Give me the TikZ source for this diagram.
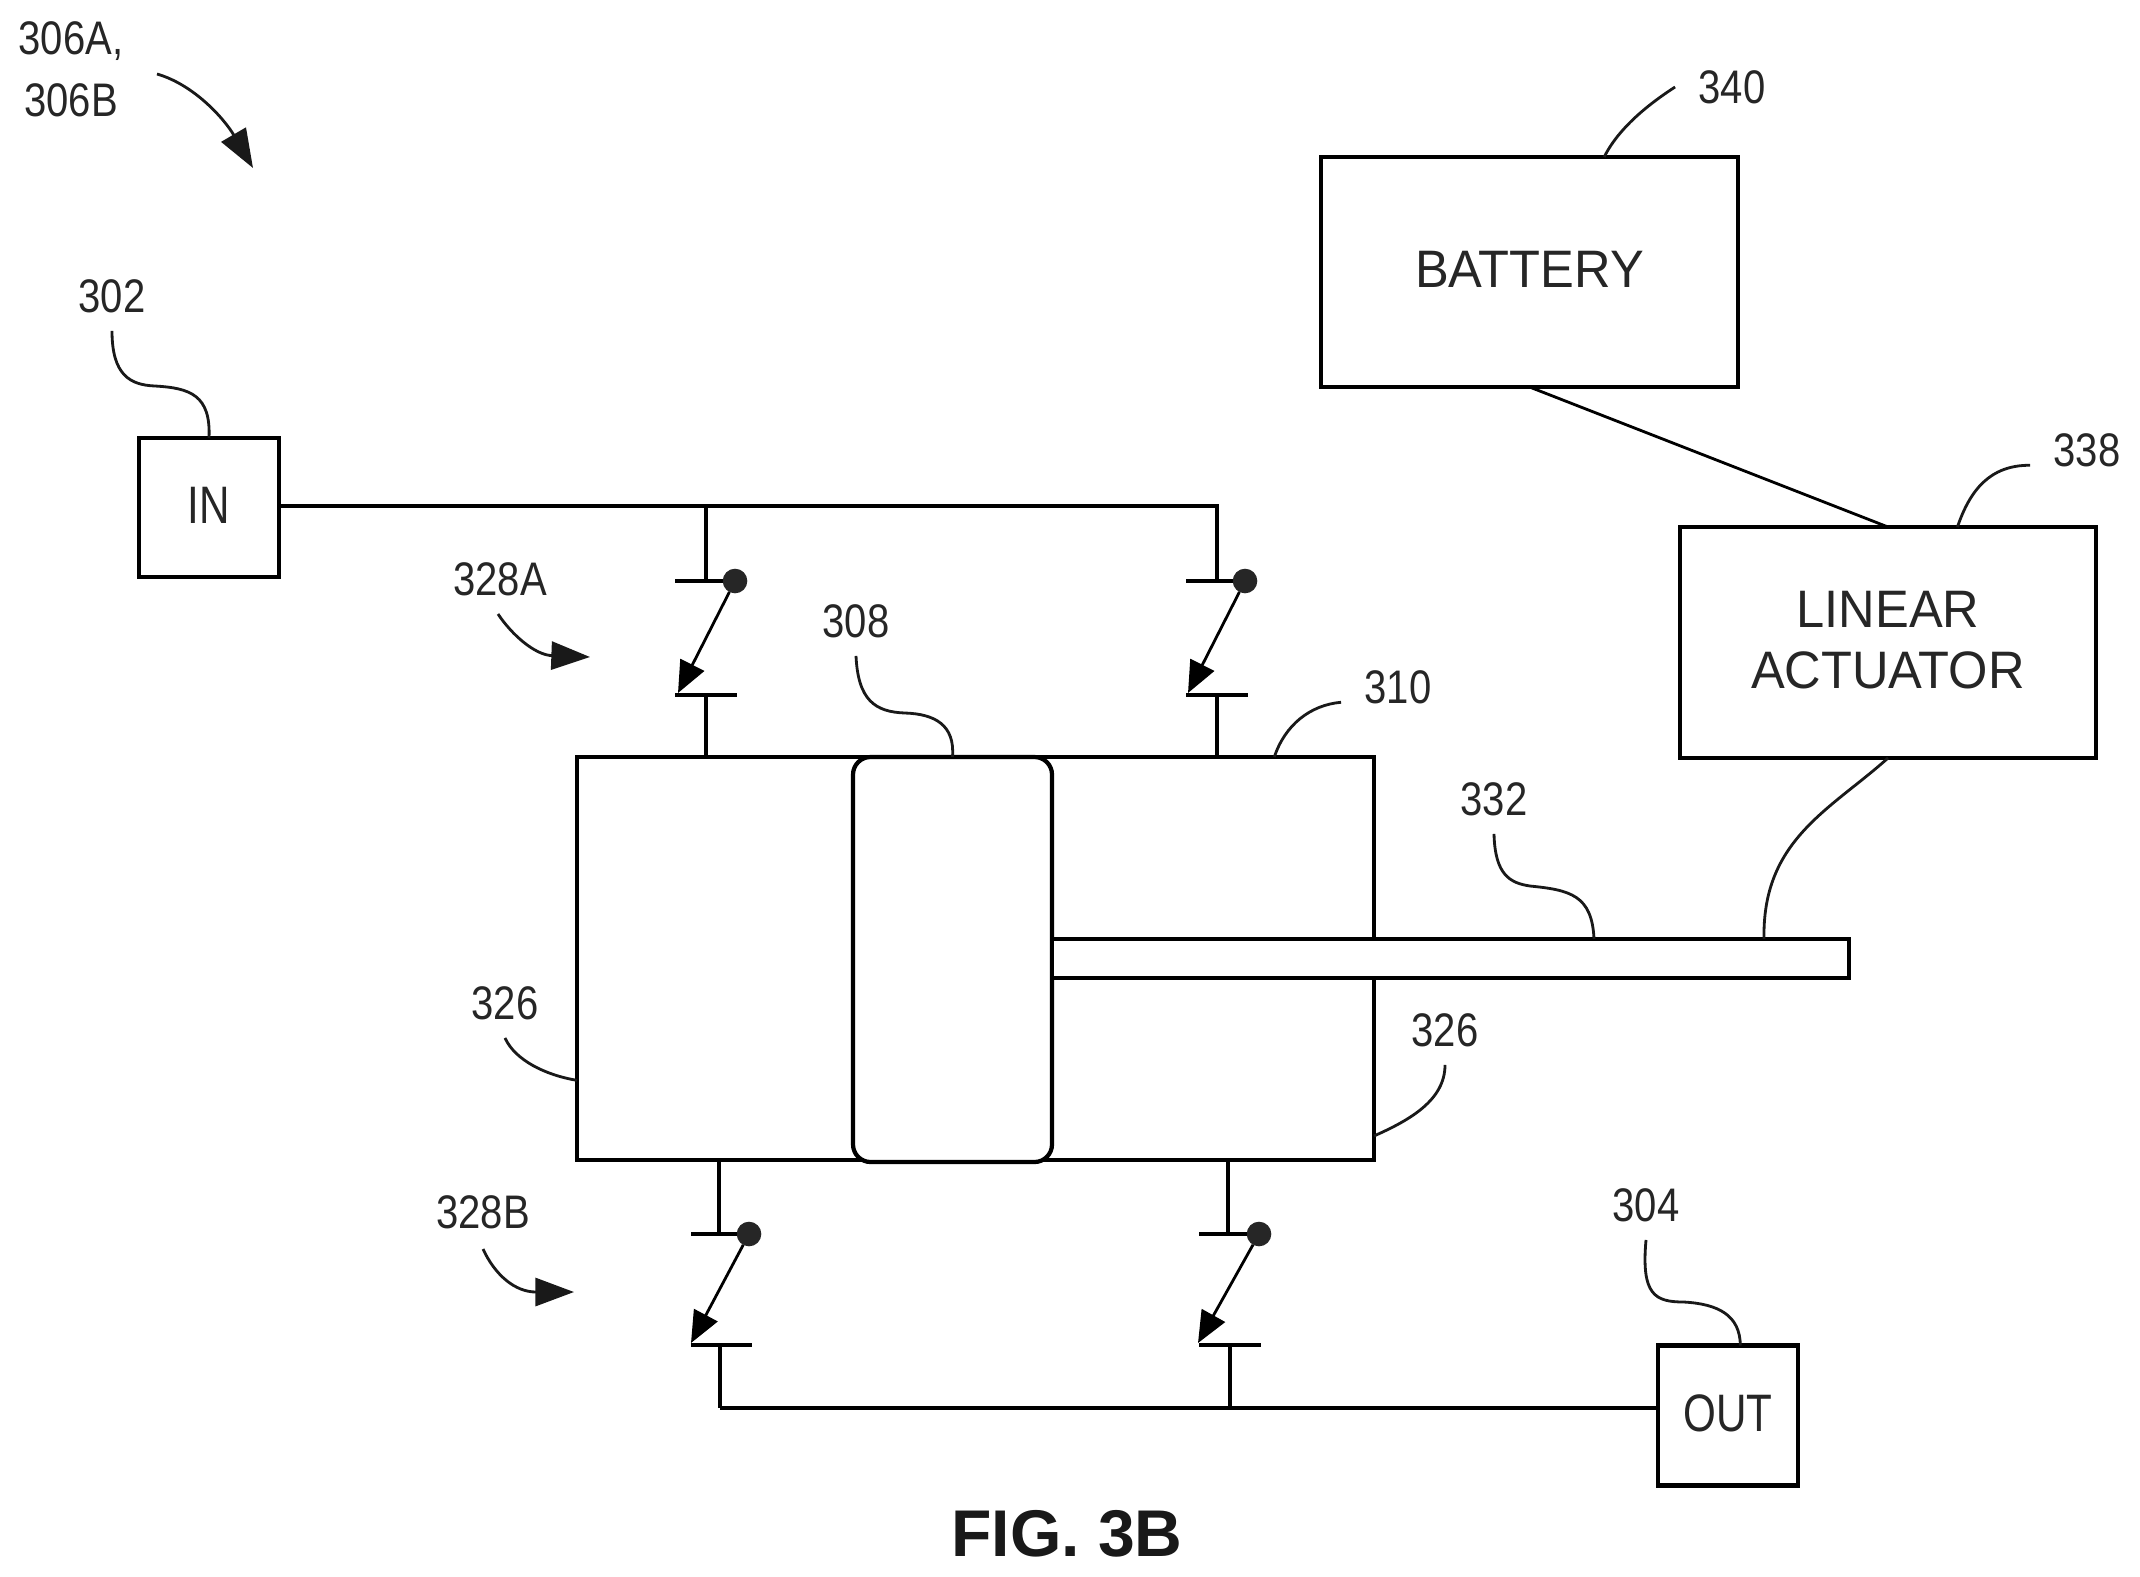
\documentclass[tikz,border=0pt]{standalone}
\usepackage{fontspec}
\usepackage{tikz}
\usetikzlibrary{arrows.meta}
\newfontfamily\lablfont[FakeStretch=0.85]{Liberation Sans}
\newfontfamily\boxfont[FakeStretch=0.96]{Liberation Sans}
\newfontfamily\portfont[FakeStretch=0.80]{Liberation Sans}
\newfontfamily\figfont{Liberation Sans}
\tikzset{
	rectnode/.style={rectangle, draw=black, very thick, inner sep=0pt, outer sep=0pt, fill=white},
	boxtext/.style={font=\fontsize{15pt}{17.4pt}\selectfont\boxfont, align=center, text=black!85, text depth=1.5pt},
	porttext/.style={font=\fontsize{15pt}{17.4pt}\selectfont\portfont, text=black!85, text depth=1.5pt},
	lablnode/.style={inner ysep=5pt, inner xsep=6.5pt, font=\fontsize{13.4pt}{17.6pt}\selectfont\lablfont, align=center, text=black!85},
	swdot/.style={circle, fill=black!85, inner sep=0pt, outer sep=0pt, minimum size=7pt},
	leadline/.style={thick, black!90},
	leadarrow/.style={thick, black!90, -{Triangle[length=11pt,width=8pt]}},
	lever/.style={thick, black, -{Triangle[length=9pt,width=7.5pt]}}
}
\begin{document}
\begin{tikzpicture}[y=-1cm]
		\useasboundingbox (0,0) rectangle (21.40,15.76);
		
		%boxes
		\node[rectnode, boxtext, minimum width=4.17cm, minimum height=2.30cm] at (15.295,2.72) (battery) {BATTERY};
		\node[rectnode, boxtext, minimum width=4.16cm, minimum height=2.31cm] at (18.88,6.425) (actuator) {LINEAR\\ACTUATOR};
		\node[rectnode, porttext, minimum width=1.40cm, minimum height=1.39cm] at (2.09,5.075) (in) {IN};
		\node[rectnode, porttext, minimum width=1.40cm, minimum height=1.40cm] at (17.28,14.155) (out) {OUT};
		\node[rectnode, minimum width=7.97cm, minimum height=4.03cm] at (9.755,9.585) (cylinder) {};
		\node[rectnode, rounded corners=5pt, minimum width=1.99cm, minimum height=4.05cm] at (9.525,9.595) (piston) {};
		\node[rectnode, minimum width=7.97cm, minimum height=0.39cm] at (14.505,9.585) (rod) {};
		
		%text
		\node[lablnode] at (0.71,0.69) (l306) {306A,\\306B};
		\node[lablnode] at (1.12,2.96) (l302) {302};
		\node[lablnode] at (5.00,5.79) (l328a) {328A};
		\node[lablnode] at (8.56,6.21) (l308) {308};
		\node[lablnode] at (13.98,6.87) (l310) {310};
		\node[lablnode] at (14.94,7.99) (l332) {332};
		\node[lablnode] at (17.32,0.87) (l340) {340};
		\node[lablnode] at (20.87,4.50) (l338) {338};
		\node[lablnode] at (5.05,10.03) (l326a) {326};
		\node[lablnode] at (14.45,10.30) (l326b) {326};
		\node[lablnode] at (4.83,12.12) (l328b) {328B};
		\node[lablnode] at (16.46,12.05) (l304) {304};
		\node[inner sep=0pt, font=\fontsize{18.8pt}{20pt}\selectfont\figfont\bfseries, text=black!90] at (10.67,15.34) (fig) {FIG. 3B};
		
		%switch dots
		\node[swdot] at (7.35,5.81) (dot1) {};
		\node[swdot] at (12.45,5.81) (dot2) {};
		\node[swdot] at (7.49,12.34) (dot3) {};
		\node[swdot] at (12.59,12.34) (dot4) {};
		
		%switch points
		\coordinate (up1) at (7.06,5.81);
		\coordinate (up2) at (12.17,5.81);
		\coordinate (up3) at (7.19,12.34);
		\coordinate (up4) at (12.28,12.34);
		\coordinate (low1) at (7.06,6.95);
		\coordinate (low2) at (12.17,6.95);
		\coordinate (low3) at (7.20,13.45);
		\coordinate (low4) at (12.30,13.45);
		\coordinate (tip1) at (6.78,6.93);
		\coordinate (tip2) at (11.88,6.93);
		\coordinate (tip3) at (6.91,13.43);
		\coordinate (tip4) at (11.98,13.43);
		\coordinate (bar1) at (7.37,6.95);
		\coordinate (bar2) at (12.48,6.95);
		\coordinate (bar3) at (7.52,13.45);
		\coordinate (bar4) at (12.61,13.45);
		\coordinate (barl1) at (6.75,6.95);
		\coordinate (barl2) at (11.86,6.95);
		\coordinate (barl3) at (6.91,13.45);
		\coordinate (barl4) at (11.99,13.45);
		\coordinate (inrail) at (12.17,5.06);
		\coordinate (outrail) at (7.20,14.08);
		
		%wires
		\draw[very thick] (in.east |- inrail) -- (inrail) -- (up2);
		\draw[very thick] (up1 |- inrail) -- (up1);
		\draw[very thick] (outrail) -- (outrail -| out.west);
		\draw[very thick] (low3) -- (outrail);
		\draw[very thick] (low4) -- (low4 |- outrail);
		\draw[very thick] (low1) -- (low1 |- cylinder.north);
		\draw[very thick] (low2) -- (low2 |- cylinder.north);
		\draw[very thick] (up3 |- cylinder.south) -- (up3);
		\draw[very thick] (up4 |- cylinder.south) -- (up4);
		\draw[thick] (battery.south) -- (actuator.north);
		
		%switch contacts
		\draw[very thick] (6.75,5.81) -- (dot1);
		\draw[very thick] (11.86,5.81) -- (dot2);
		\draw[very thick] (6.91,12.34) -- (dot3);
		\draw[very thick] (11.99,12.34) -- (dot4);
		\draw[very thick] (barl1) -- (bar1);
		\draw[very thick] (barl2) -- (bar2);
		\draw[very thick] (barl3) -- (bar3);
		\draw[very thick] (barl4) -- (bar4);
		\draw[lever] (dot1) -- (tip1);
		\draw[lever] (dot2) -- (tip2);
		\draw[lever] (dot3) -- (tip3);
		\draw[lever] (dot4) -- (tip4);
		
		%leads
		\coordinate (roda) at (15.94,9.39);
		\coordinate (rodb) at (17.64,9.39);
		\draw[leadline] (l302.south) .. controls (1.12,3.75) and (1.30,3.85) .. (1.55,3.86) .. controls (1.90,3.88) and (2.11,3.95) .. (in.north);
		\draw[leadline] (l308.south) .. controls (8.58,7.00) and (8.75,7.12) .. (9.05,7.13) .. controls (9.35,7.14) and (9.55,7.25) .. (piston.north);
		\draw[leadline] (l332.south) .. controls (14.95,8.75) and (15.10,8.83) .. (15.30,8.86) .. controls (15.70,8.90) and (15.92,8.95) .. (roda);
		\draw[leadline] (l304.south) .. controls (16.41,12.95) and (16.55,13.02) .. (16.84,13.02) .. controls (17.18,13.04) and (17.40,13.15) .. (out.80);
		\draw[leadline] (actuator.south) .. controls (18.30,8.10) and (17.62,8.40) .. (rodb);
		\draw[leadline] (l340.west) .. controls (16.55,1.00) and (16.20,1.25) .. (battery.57);
		\draw[leadline] (l338.195) .. controls (19.90,4.65) and (19.70,4.90) .. (actuator.59);
		\draw[leadline] (l310.195) .. controls (13.10,7.05) and (12.85,7.25) .. (cylinder.34.4);
		\draw[leadline] (l326a.south) .. controls (5.15,10.60) and (5.45,10.75) .. (cylinder.197.5);
		\draw[leadline] (l326b.south) .. controls (14.45,11.00) and (14.10,11.20) .. (cylinder.336.8);
		
		%pointer arrows
		\coordinate (from306) at (1.57,0.74);
		\coordinate (to306) at (2.53,1.68);
		\coordinate (from328a) at (4.98,6.14);
		\coordinate (to328a) at (5.90,6.57);
		\coordinate (from328b) at (4.83,12.49);
		\coordinate (to328b) at (5.74,12.92);
		\draw[leadarrow] (from306) .. controls (1.95,0.85) and (2.25,1.20) .. (to306);
		\draw[leadarrow] (from328a) .. controls (5.12,6.35) and (5.35,6.55) .. (to328a);
		\draw[leadarrow] (from328b) .. controls (4.95,12.75) and (5.15,12.92) .. (to328b);
	\end{tikzpicture}
\end{document}
